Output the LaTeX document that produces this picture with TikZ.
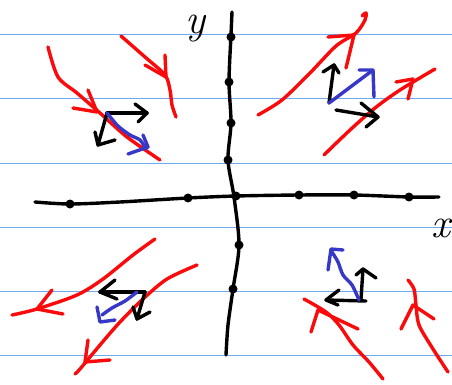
\documentclass[tikz,border=0pt]{standalone}
\usepackage{fontspec}
\setmainfont{Latin Modern Roman}
\definecolor{penred}{RGB}{250,10,10}
\definecolor{penblue}{RGB}{55,55,200}
\definecolor{rulecol}{RGB}{110,170,240}
\begin{document}
\begin{tikzpicture}[x=1pt,y=-1pt,line cap=round,line join=round,
  pen/.style={line width=3.4pt},
  redpen/.style={pen,draw=penred},
  bluepen/.style={pen,draw=penblue},
  blackpen/.style={pen,draw=black},
  rule/.style={line width=1pt,draw=rulecol},
  dot/.style={circle,fill=black,inner sep=0pt,minimum size=9pt},
  lbl/.style={inner sep=0pt,font=\fontsize{42}{42}\selectfont\itshape}]
\useasboundingbox (0,0) rectangle (452,385);
\fill[white] (0,0) rectangle (452,385);
\foreach \yy in {35,99,163,227,291,355} \draw[rule] (0,\yy) -- (452,\yy);
% axes
\draw[blackpen] plot[smooth] coordinates {(35,202) (70,204) (120,202) (188,198) (236,196) (299,195) (354,195) (409,197) (439,197)};
\draw[blackpen] plot[smooth] coordinates {(232,12) (231,35) (229,82) (231,123) (228,160) (234,197) (239,245) (233,289) (228,325) (226,355)};
\foreach \n/\p in {a/{(70,204)},b/{(188,198)},c/{(236,196)},d/{(299,195)},e/{(354,195)},f/{(409,197)},g/{(231,37)},h/{(229,82)},i/{(231,123)},j/{(228,160)},k/{(239,245)},l/{(233,289)}}
  \node[dot] (\n) at \p {};
\node[lbl] (ylabel) at (195,29) {y};
\node[lbl] (xlabel) at (441,228) {x};
% Q2
\draw[redpen] plot[smooth] coordinates {(48,47) (58,77) (77,93) (100,113) (127,137) (160,160)};
\draw[redpen] (73,108) -- (97,112) -- (88,90);
\draw[redpen] plot[smooth] coordinates {(121,36) (145,57) (165,75) (170,90) (172,105) (176,117)};
\draw[redpen] (145,65) -- (166,77) -- (165,55);
\coordinate (o2) at (107,113);
\draw[blackpen] (o2) -- (147,113);
\draw[blackpen] (135,104) -- (147,113) -- (138,122);
\draw[blackpen] (o2) -- (98,145);
\draw[blackpen] (95,132) -- (98,145) -- (115,140);
\draw[bluepen] plot[smooth] coordinates {(107,113) (118,126) (130,135) (140,140) (146,149)};
\draw[bluepen] (143,135) -- (148,147) -- (128,154);
% Q1
\draw[redpen] plot[smooth] coordinates {(258,115) (282,100) (310,73) (336,46) (356,33) (365,20) (366,13) (362,16)};
\draw[redpen] (328,37) -- (354,35) -- (346,68);
\draw[redpen] plot[smooth] coordinates {(324,155) (350,130) (375,108) (400,90) (435,69)};
\draw[redpen] (396,82) -- (413,79) -- (408,99);
\coordinate (o1) at (329,103);
\draw[blackpen] (o1) -- (334,65);
\draw[blackpen] (323,72) -- (334,65) -- (339,73);
\draw[blackpen] (336,110) -- (378,117);
\draw[blackpen] (361,103) -- (378,117) -- (366,127);
\draw[bluepen] (o1) -- (373,70);
\draw[bluepen] (359,70) -- (373,70) -- (374,97);
% Q3
\draw[redpen] plot[smooth] coordinates {(155,239) (133,255) (103,279) (77,295) (37,309) (12,315)};
\draw[redpen] (52,290) -- (37,309) -- (63,314);
\draw[redpen] plot[smooth] coordinates {(197,265) (167,279) (143,299) (120,322) (100,345) (80,369) (75,374)};
\draw[redpen] (88,340) -- (85,362) -- (110,360);
\coordinate (o3) at (145,292);
\draw[blackpen] (o3) -- (100,292);
\draw[blackpen] (115,280) -- (100,292) -- (117,299);
\draw[blackpen] (o3) -- (137,319);
\draw[blackpen] (133,307) -- (137,319) -- (150,312);
\draw[bluepen] plot[smooth] coordinates {(137,292) (125,301) (112,308) (102,315)};
\draw[bluepen] (97,307) -- (100,322) -- (115,320);
% Q4
\draw[redpen] plot[smooth] coordinates {(383,379) (369,362) (353,345) (339,325) (326,312) (304,299)};
\draw[redpen] (311,332) -- (318,310) -- (358,329);
\draw[redpen] plot[smooth] coordinates {(448,372) (433,349) (419,325) (416,305) (414,289) (408,280)};
\draw[redpen] (401,329) -- (413,305) -- (434,319);
\coordinate (o4) at (366,301);
\draw[blackpen] (o4) -- (326,300);
\draw[blackpen] (339,290) -- (326,300) -- (338,305);
\draw[blackpen] (361,299) -- (363,269);
\draw[blackpen] (356,275) -- (363,269) -- (376,278);
\draw[bluepen] plot[smooth] coordinates {(359,300) (352,285) (343,275) (338,262) (332,252)};
\draw[bluepen] (328,270) -- (331,249) -- (343,250);
\end{tikzpicture}
\end{document}
